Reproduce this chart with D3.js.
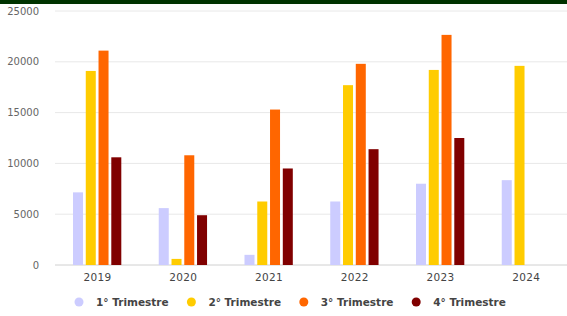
<!DOCTYPE html>
<html>
<head>
<meta charset="utf-8">
<script src="https://cdn.jsdelivr.net/npm/d3@7"></script>
<style>
  html, body { margin: 0; padding: 0; background: #fff; }
  #chart { width: 567px; height: 316px; }
</style>
</head>
<body>
<div id="chart"></div>
<script>
const width = 567;
const height = 316;

// data
const years = ["2019", "2020", "2021", "2022", "2023", "2024"];
const seriesNames = ["1° Trimestre", "2° Trimestre", "3° Trimestre", "4° Trimestre"];
const seriesColors = ["#ccccff", "#ffcc00", "#ff6600", "#800000"];
const q1 = [7150, 5600, 1000, 6250, 8000, 8350];
const q2 = [19100, 600, 6250, 17700, 19200, 19600];
const q3 = [21100, 10800, 15300, 19800, 22650, null];
const q4 = [10600, 4900, 9500, 11400, 12500, null];
const yTicks = [0, 5000, 10000, 15000, 20000, 25000];

const allSeries = [q1, q2, q3, q4];

const svg = d3.select("#chart")
    .append("svg")
    .attr("width", width)
    .attr("height", height);

// green strip at the top
svg.append("rect")
    .attr("x", 0).attr("y", 0)
    .attr("width", width).attr("height", 4)
    .attr("fill", "#003300");

const x0 = d3.scaleBand()
    .domain(years)
    .range([54.6, 569.1]);

const x1 = d3.scaleBand()
    .domain(seriesNames)
    .range([18.4, 66.7])
    .paddingInner(0.216);

const y = d3.scaleLinear()
    .domain([0, 25000])
    .range([265, 11]);

// gridlines
svg.append("g")
    .selectAll("line")
    .data(yTicks)
    .enter()
    .append("line")
    .attr("x1", 55)
    .attr("x2", width)
    .attr("y1", d => y(d))
    .attr("y2", d => y(d))
    .attr("stroke", d => d === 0 ? "#d0d0d0" : "#e8e8e8")
    .attr("stroke-width", 1);

// y labels
svg.append("g")
    .selectAll("text")
    .data(yTicks)
    .enter()
    .append("text")
    .attr("x", 39)
    .attr("y", d => y(d))
    .attr("dy", "0.35em")
    .attr("text-anchor", "end")
    .attr("font-family", "DejaVu Sans, Verdana, sans-serif")
    .attr("font-size", 10)
    .attr("fill", "#666")
    .text(d => d);

// x labels
svg.append("g")
    .selectAll("text")
    .data(years)
    .enter()
    .append("text")
    .attr("x", d => x0(d) + x0.bandwidth() / 2)
    .attr("y", 281)
    .attr("text-anchor", "middle")
    .attr("font-family", "DejaVu Sans, Verdana, sans-serif")
    .attr("font-size", 10.5)
    .attr("letter-spacing", 0.3)
    .attr("fill", "#444")
    .text(d => d);

// bars
const groups = svg.append("g")
    .selectAll("g")
    .data(years)
    .enter()
    .append("g")
    .attr("transform", d => `translate(${x0(d)},0)`);

groups.selectAll("rect")
    .data((d, i) => seriesNames.map((s, k) => ({ key: s, value: allSeries[k][i], color: seriesColors[k] }))
        .filter(d => d.value != null))
    .enter()
    .append("rect")
    .attr("x", d => x1(d.key))
    .attr("y", d => y(d.value))
    .attr("width", x1.bandwidth())
    .attr("height", d => y(0) - y(d.value))
    .attr("fill", d => d.color);

// legend
const legend = svg.append("g")
    .selectAll("g")
    .data(seriesNames)
    .enter()
    .append("g")
    .attr("transform", (d, i) => `translate(${79 + i * 112.4},302)`);

legend.append("circle")
    .attr("r", 4.5)
    .attr("fill", (d, i) => seriesColors[i]);

legend.append("text")
    .attr("x", 17)
    .attr("dy", "0.35em")
    .attr("font-family", "DejaVu Sans, Verdana, sans-serif")
    .attr("font-weight", "bold")
    .attr("font-size", 10.5)
    .attr("fill", "#444")
    .text(d => d);
</script>
</body>
</html>
